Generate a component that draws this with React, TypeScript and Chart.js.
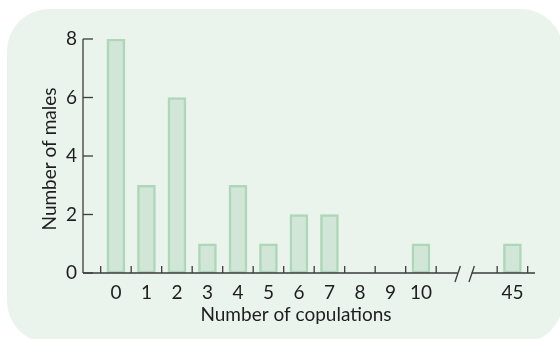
import React, { useEffect, useRef } from 'react';
import { Chart, registerables } from 'chart.js';

Chart.register(...registerables);

// ---- data ----
const categories = ['0', '1', '2', '3', '4', '5', '6', '7', '8', '9', '10', '45'];
const counts = [8, 3, 6, 1, 3, 1, 2, 2, 0, 0, 1, 1];
const yTickValues = [0, 2, 4, 6, 8];
const xTitle = 'Number of copulations';
const yTitle = 'Number of males';
const breakAfterIndex = 10; // axis is broken after category "10"
const breakSlots = 2; // empty slots skipped by the break

// slot position of each category along the (broken) x axis
const slots = categories.map((_, i) => (i > breakAfterIndex ? i + breakSlots : i));

const FONT = 'Lato, "Open Sans", sans-serif';
const TEXT = '#1e1e1e';
const AXIS = '#3c3c3c';

const axesPlugin = {
  id: 'customAxes',
  afterDraw(chart: any) {
    const { ctx, chartArea } = chart;
    const xs = chart.scales.x;
    const ys = chart.scales.y;
    const y0 = ys.getPixelForValue(0);
    const yTop = ys.getPixelForValue(yTickValues[yTickValues.length - 1]);
    const left = chartArea.left;
    const right = chartArea.right;
    const breakCenter = xs.getPixelForValue(breakAfterIndex + 0.5 + breakSlots / 2) - 2;
    const half = 7;

    ctx.save();
    ctx.strokeStyle = AXIS;
    ctx.lineWidth = 1.3;
    // y axis line
    ctx.beginPath();
    ctx.moveTo(left, yTop);
    ctx.lineTo(left, y0);
    ctx.stroke();
    // y ticks (inward)
    yTickValues.forEach((v) => {
      const py = ys.getPixelForValue(v);
      ctx.beginPath();
      ctx.moveTo(left, py);
      ctx.lineTo(left + 10, py);
      ctx.stroke();
    });
    // x axis line with break
    ctx.beginPath();
    ctx.moveTo(left, y0);
    ctx.lineTo(breakCenter - half, y0);
    ctx.moveTo(breakCenter + half, y0);
    ctx.lineTo(right, y0);
    ctx.stroke();
    // break slashes
    [breakCenter - half, breakCenter + half].forEach((cx) => {
      ctx.beginPath();
      ctx.moveTo(cx - 2.7, y0 + 9);
      ctx.lineTo(cx + 2.7, y0 - 7);
      ctx.stroke();
    });
    // x ticks at slot boundaries (inward)
    const bounds = new Set<number>();
    slots.forEach((s) => {
      bounds.add(s - 0.5);
      bounds.add(s + 0.5);
    });
    bounds.forEach((b) => {
      const px = xs.getPixelForValue(b);
      ctx.beginPath();
      ctx.moveTo(px, y0);
      ctx.lineTo(px, y0 - 7);
      ctx.stroke();
    });

    // titles
    ctx.fillStyle = TEXT;
    ctx.font = `19px ${FONT}`;
    ctx.textAlign = 'center';
    ctx.textBaseline = 'middle';
    ctx.fillText(xTitle, (left + right) / 2 - 13, y0 + 42);
    ctx.translate(50, (y0 + yTop) / 2 + 3);
    ctx.rotate(-Math.PI / 2);
    ctx.fillText(yTitle, 0, 0);
    ctx.restore();
  },
};

export default function App() {
  const canvasRef = useRef<HTMLCanvasElement | null>(null);

  useEffect(() => {
    document.body.style.margin = '0';
    const canvas = canvasRef.current;
    if (!canvas) return;
    const chart = new Chart(canvas, {
      type: 'bar',
      data: {
        datasets: [
          {
            data: slots.map((s, i) => ({ x: s, y: counts[i] })),
            backgroundColor: '#d2e6d8',
            borderColor: '#aed6b9',
            borderWidth: 2.5,
            borderSkipped: false,
            barThickness: 18,
          },
        ],
      },
      options: {
        responsive: false,
        animation: false,
        events: [],
        layout: { padding: { top: 39, right: 25, left: 0, bottom: 0 } },
        plugins: { legend: { display: false }, tooltip: { enabled: false } },
        scales: {
          x: {
            type: 'linear',
            offset: false,
            min: -1.08,
            max: 13.74,
            grid: { display: false, drawTicks: false, offset: false },
            border: { display: false },
            afterBuildTicks: (scale: any) => {
              scale.ticks = slots.map((v) => ({ value: v }));
            },
            afterFit: (scale: any) => {
              scale.height = 66;
            },
            ticks: {
              autoSkip: false,
              maxRotation: 0,
              padding: 8,
              color: TEXT,
              font: { family: FONT, size: 19 },
              callback: (_v: any, i: number) => categories[i],
            },
          },
          y: {
            min: 0,
            max: 8,
            grid: { display: false, drawTicks: false },
            border: { display: false },
            afterBuildTicks: (scale: any) => {
              scale.ticks = yTickValues.map((v) => ({ value: v }));
            },
            afterFit: (scale: any) => {
              scale.width = 83;
            },
            ticks: {
              padding: 6,
              color: TEXT,
              font: { family: FONT, size: 19 },
            },
          },
        },
      },
      plugins: [axesPlugin],
    });
    return () => chart.destroy();
  }, []);

  return (
    <div style={{ position: 'relative', width: 560, height: 339, overflow: 'hidden' }}>
      <div
        style={{
          position: 'absolute',
          left: 7,
          top: 9,
          width: 556,
          height: 334,
          borderRadius: 42,
          background: '#eaf3ec',
        }}
      />
      <canvas ref={canvasRef} width={560} height={339} style={{ position: 'absolute', left: 0, top: 0 }} />
    </div>
  );
}
